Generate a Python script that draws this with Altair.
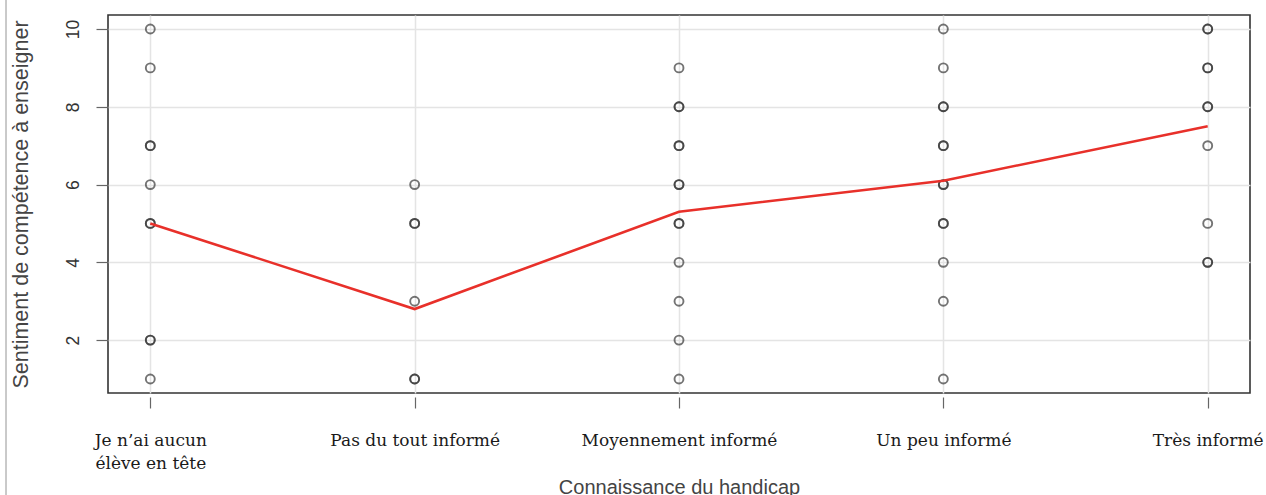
import altair as alt
import pandas as pd

# ---- data ----
categories = [
    "Je n’ai aucun élève en tête",
    "Pas du tout informé",
    "Moyennement informé",
    "Un peu informé",
    "Très informé",
]
tick_labels = [
    ["Je n’ai aucun", "élève en tête"],
    ["Pas du tout informé"],
    ["Moyennement informé"],
    ["Un peu informé"],
    ["Très informé"],
]
# observed scores per category (repeated values = overplotted points)
scores_cat1 = [10, 9, 7, 7, 6, 5, 5, 2, 2, 1]
scores_cat2 = [6, 5, 5, 3, 1, 1]
scores_cat3 = [9, 8, 8, 7, 7, 6, 6, 5, 5, 4, 3, 2, 1]
scores_cat4 = [10, 9, 8, 8, 7, 7, 6, 6, 5, 5, 4, 3, 1]
scores_cat5 = [10, 10, 9, 9, 8, 8, 7, 5, 4, 4]
means = [5.0, 2.8, 5.3, 6.1, 7.5]
y_ticks = [2, 4, 6, 8, 10]

all_scores = [scores_cat1, scores_cat2, scores_cat3, scores_cat4, scores_cat5]
rows = []
for i, (cat, sc) in enumerate(zip(categories, all_scores)):
    for v in sc:
        rows.append({"pos": i + 1, "categorie": cat, "score": v})
pts = pd.DataFrame(rows)
mean_df = pd.DataFrame({"pos": list(range(1, len(categories) + 1)),
                        "categorie": categories, "score": means})

label_expr = "[" + ",".join(
    "[" + ",".join("'" + s + "'" for s in lines) + "]" for lines in tick_labels
) + "][datum.value - 1]"

x_enc = alt.X(
    "pos:Q",
    scale=alt.Scale(domain=[0.84, 5.16], nice=False, zero=False),
    axis=alt.Axis(
        values=list(range(1, len(categories) + 1)),
        labelExpr=label_expr,
        labelFont="DejaVu Serif",
        labelFontSize=17,
        labelColor="#1a1a1a",
        labelBaseline="alphabetic",
        labelAlign="center",
        labelPadding=37,
        labelLineHeight=23,
        labelLimit=0,
        labelFlush=False,
        labelOverlap=False,
        tickSize=11,
        tickColor="#666666",
        tickWidth=1.2,
        offset=4,
        domain=False,
        grid=True,
        gridColor="#e4e4e4",
        gridWidth=1.5,
        title="Connaissance du handicap",
        titleFont="Liberation Sans",
        titleFontSize=20,
        titleFontWeight="normal",
        titleColor="#444444",
        titleBaseline="alphabetic",
        titleY=96,
    ),
)
y_enc = alt.Y(
    "score:Q",
    scale=alt.Scale(domain=[0.64, 10.36], nice=False, zero=False),
    axis=alt.Axis(
        values=y_ticks,
        labelAngle=270,
        labelAlign="center",
        labelBaseline="alphabetic",
        labelPadding=18,
        labelFont="Liberation Sans",
        labelFontSize=17.5,
        labelColor="#333333",
        tickSize=12,
        tickColor="#666666",
        tickWidth=1.2,
        domain=False,
        grid=True,
        gridColor="#e4e4e4",
        gridWidth=1.5,
        title="Sentiment de compétence à enseigner",
        titleFont="Liberation Sans",
        titleFontSize=21.5,
        titleFontWeight="normal",
        titleColor="#444444",
        titleAngle=270,
        titleAlign="center",
        titleBaseline="alphabetic",
        titleX=-81,
        titleY=189,
    ),
)

points = alt.Chart(pts).mark_point(
    shape="circle", filled=False, size=80, strokeWidth=1.9,
    color="#333333", opacity=0.68,
).encode(x=x_enc, y=y_enc)

line = alt.Chart(mean_df).mark_line(color="#e8302a", strokeWidth=2.6).encode(
    x=x_enc, y=y_enc
)

border = alt.Chart(mean_df).mark_rule(color="#c8c8c8", strokeWidth=1).encode(
    x=alt.value(-102), y=alt.value(-15), y2=alt.value(480)
)

chart = (
    alt.layer(points, line, border)
    .properties(
        width=1142,
        height=378,
        autosize=alt.AutoSizeParams(type="none"),
        padding={"left": 108, "top": 15, "right": 16, "bottom": 102},
        background="white",
    )
    .configure_view(stroke="#333333", strokeWidth=1.6)
)

chart.save("out.html", embed_options={"renderer": "svg", "actions": False})
